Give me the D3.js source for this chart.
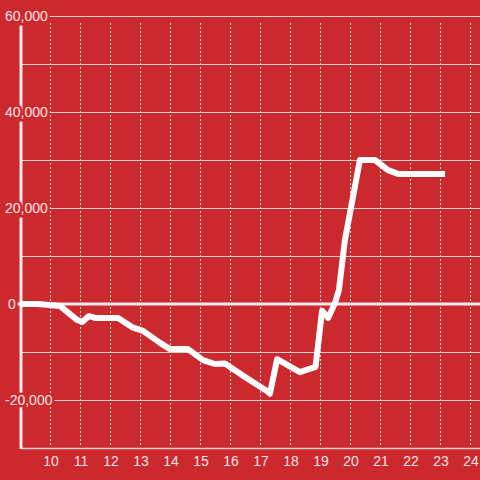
<!DOCTYPE html>
<html lang="en">
<head>
    <meta charset="UTF-8">
    <title></title>
    <style>
        body { margin: 0; background: #cc292e; }
        svg { display: block; }
        text { font-family: "Liberation Sans", Arial, sans-serif; font-size: 14px; fill: #f6e4e4; }
    </style>
</head>
<body>
<script src="https://cdn.jsdelivr.net/npm/d3@7"></script>
<script>
    var hours = [9, 9.6, 10.33, 10.9, 11.07, 11.3, 11.5, 12.27, 12.73, 13.1, 13.67, 14, 14.6,
        15.1, 15.5, 15.83, 16.5, 17.27, 17.33, 17.57, 18.33, 18.85, 19.07, 19.27, 19.5,
        19.63, 19.83, 20.33, 20.83, 21.27, 21.6, 23.17];
    var values = [0, 0, -400, -3300, -3750, -2500, -2900, -2900, -4800, -5600, -8100, -9400, -9400,
        -11700, -12500, -12400, -15200, -18300, -18700, -11500, -14200, -13100, -1400, -2900, 200,
        2900, 13300, 30000, 30000, 27900, 27100, 27100];
    var xTicks = [10, 11, 12, 13, 14, 15, 16, 17, 18, 19, 20, 21, 22, 23, 24];
    var yTicks = [60000, 40000, 20000, 0, -20000];
    var yGrid = [60000, 50000, 40000, 30000, 20000, 10000, -10000, -20000];

    var width = 480, height = 480;
    var bg = '#cc292e';

    var x = d3.scaleLinear().domain([9, 25]).range([20, 500]);
    var y = d3.scaleLinear().domain([-30000, 60000]).range([448, 16]);

    var svg = d3.select('body').append('svg')
        .attr('width', width)
        .attr('height', height);

    svg.append('rect').attr('width', width).attr('height', height).attr('fill', bg);

    // vertical dotted grid
    svg.append('g').selectAll('line')
        .data(xTicks)
        .enter().append('line')
        .attr('x1', function (d) { return x(d) + 0.5; })
        .attr('x2', function (d) { return x(d) + 0.5; })
        .attr('y1', 23)
        .attr('y2', 446)
        .attr('stroke', '#e6e0e0')
        .attr('stroke-width', 1)
        .attr('stroke-dasharray', '2,2');

    // horizontal grid
    svg.append('g').selectAll('line')
        .data(yGrid)
        .enter().append('line')
        .attr('x1', 21)
        .attr('x2', width)
        .attr('y1', function (d) { return y(d) + 0.5; })
        .attr('y2', function (d) { return y(d) + 0.5; })
        .attr('stroke', '#d8d0d0')
        .attr('stroke-width', 1);

    // x axis line
    svg.append('line')
        .attr('x1', 21).attr('x2', width)
        .attr('y1', 448.5).attr('y2', 448.5)
        .attr('stroke', '#d8d0d0').attr('stroke-width', 1.5);

    // y axis line
    svg.append('line')
        .attr('x1', x(9) + 1).attr('x2', x(9) + 1)
        .attr('y1', 23).attr('y2', 449)
        .attr('stroke', '#f0eaea').attr('stroke-width', 3);

    // zero line
    svg.append('line')
        .attr('x1', 17).attr('x2', width)
        .attr('y1', y(0)).attr('y2', y(0))
        .attr('stroke', '#f0eaea').attr('stroke-width', 3);

    // y labels, with background-coloured halo
    svg.append('g').selectAll('text')
        .data(yTicks)
        .enter().append('text')
        .attr('x', function (d) { return d === 0 ? 8 : 5; })
        .attr('y', function (d) { return y(d) + 5; })
        .attr('stroke', bg)
        .attr('stroke-width', 5)
        .attr('paint-order', 'stroke')
        .text(function (d) { return d3.format(',')(d).replace('−', '-'); });

    // x labels
    svg.append('g').selectAll('text')
        .data(xTicks)
        .enter().append('text')
        .attr('x', function (d) { return x(d) + 1; })
        .attr('y', 466)
        .attr('text-anchor', 'middle')
        .text(function (d) { return d; });

    var line = d3.line()
        .x(function (d, i) { return x(hours[i]); })
        .y(function (d) { return y(d); });

    svg.append('path')
        .datum(values)
        .attr('d', line)
        .attr('fill', 'none')
        .attr('stroke', '#ffffff')
        .attr('stroke-width', 6)
        .attr('stroke-linejoin', 'round');
</script>
</body>
</html>
